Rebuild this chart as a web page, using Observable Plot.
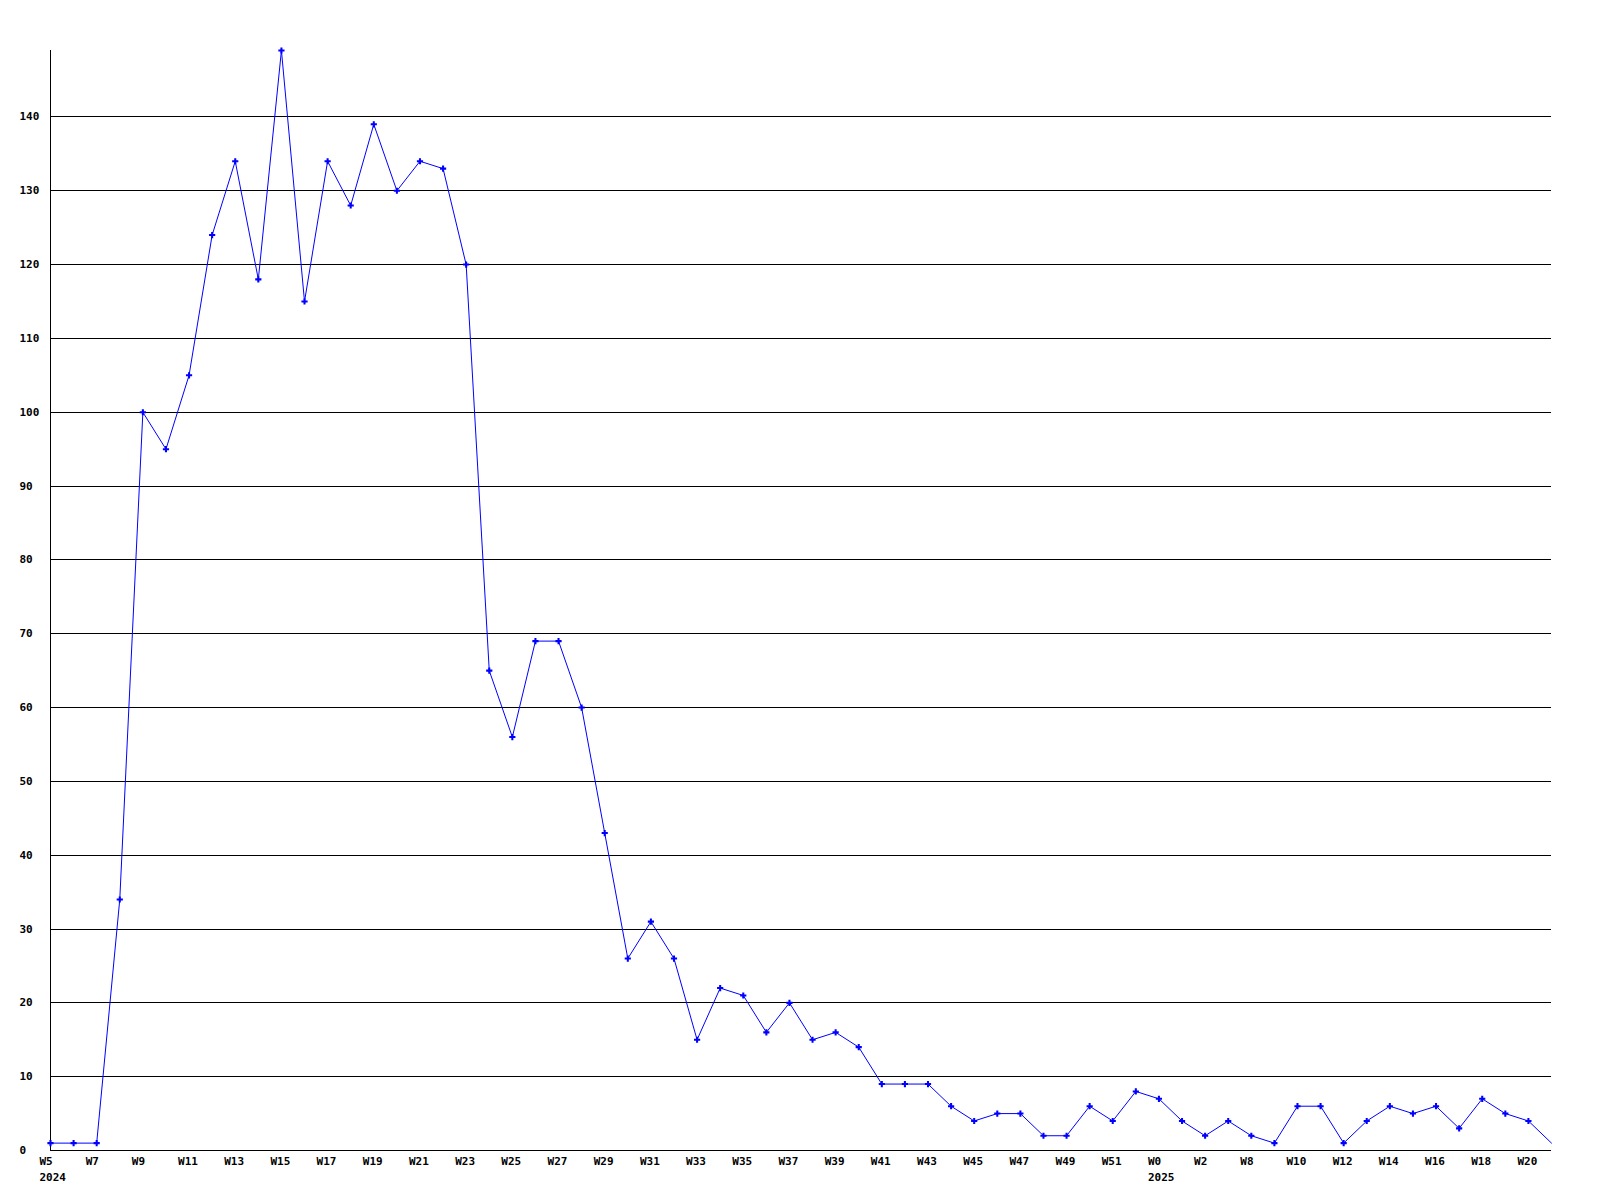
<!DOCTYPE html>
<html>
<head>
<meta charset="utf-8">
<script src="https://cdn.jsdelivr.net/npm/d3@7"></script>
<script src="https://cdn.jsdelivr.net/npm/@observablehq/plot@0.6"></script>
<style>
  html, body { margin: 0; padding: 0; background: #fff; }
  #chart svg { display: block; }
</style>
</head>
<body>
<div id="chart"></div>
<script>
// Weekly counts, W5 2024 through W21 2025 (one value per week, in order)
const counts = [
  1, 1, 1, 34, 100, 95, 105, 124, 134, 118,
  149, 115, 134, 128, 139, 130, 134, 133, 120, 65,
  56, 69, 69, 60, 43, 26, 31, 26, 15, 22,
  21, 16, 20, 15, 16, 14, 9, 9, 9, 6,
  4, 5, 5, 2, 2, 6, 4, 8, 7, 4,
  2, 4, 2, 1, 6, 6, 1, 4, 6, 5,
  6, 3, 7, 5, 4, 1
];

// Tick labels shown on every second week
const tickLabels = [
  "W5", "W7", "W9", "W11", "W13", "W15", "W17", "W19", "W21", "W23",
  "W25", "W27", "W29", "W31", "W33", "W35", "W37", "W39", "W41", "W43",
  "W45", "W47", "W49", "W51", "W0", "W2", "W8", "W10", "W12", "W14",
  "W16", "W18", "W20"
];
// Year labels printed under the first tick of each year
const yearLabels = { "W5": "2024", "W0": "2025" };

const yTicks = [0, 10, 20, 30, 40, 50, 60, 70, 80, 90, 100, 110, 120, 130, 140];

const data = counts.map((v, i) => ({ i, v }));
const tickIdx = tickLabels.map((_, k) => k * 2);
const labelAt = new Map(tickLabels.map((t, k) => [k * 2, yearLabels[t] ? t + "\n" + yearLabels[t] : t]));

const chart = Plot.plot({
  width: 1600,
  height: 1200,
  marginLeft: 50,
  marginRight: 49,
  marginTop: 50,
  marginBottom: 50,
  style: {
    fontFamily: "'DejaVu Sans Mono', monospace",
    fontWeight: "bold",
    fontSize: "11px",
    color: "#000",
    background: "#fff"
  },
  x: { type: "linear", domain: [0, counts.length - 1] },
  y: { domain: [0, 149] },
  marks: [
    Plot.ruleY(yTicks.filter(d => d > 0), { stroke: "#000", strokeWidth: 1, shapeRendering: "crispEdges" }),
    Plot.ruleY([0], { stroke: "#000", strokeWidth: 1, shapeRendering: "crispEdges" }),
    Plot.ruleX([0], { stroke: "#000", strokeWidth: 1, shapeRendering: "crispEdges" }),
    Plot.axisY({
      ticks: yTicks,
      tickSize: 0,
      tickPadding: 31,
      textAnchor: "start",
      label: null,
      fill: "#000"
    }),
    Plot.axisX({
      ticks: tickIdx,
      tickFormat: d => labelAt.get(d),
      tickSize: 0,
      tickPadding: 4,
      textAnchor: "start",
      dx: -11,
      lineHeight: 1.4,
      label: null,
      fill: "#000"
    }),
    Plot.line(data, { x: "i", y: "v", stroke: "#0000ff", strokeWidth: 1 }),
    Plot.dot(data.slice(0, -1), { x: "i", y: "v", symbol: "cross", fill: "#0000ff", stroke: "none", r: 2.6 })
  ]
});

document.getElementById("chart").appendChild(chart);
</script>
</body>
</html>
